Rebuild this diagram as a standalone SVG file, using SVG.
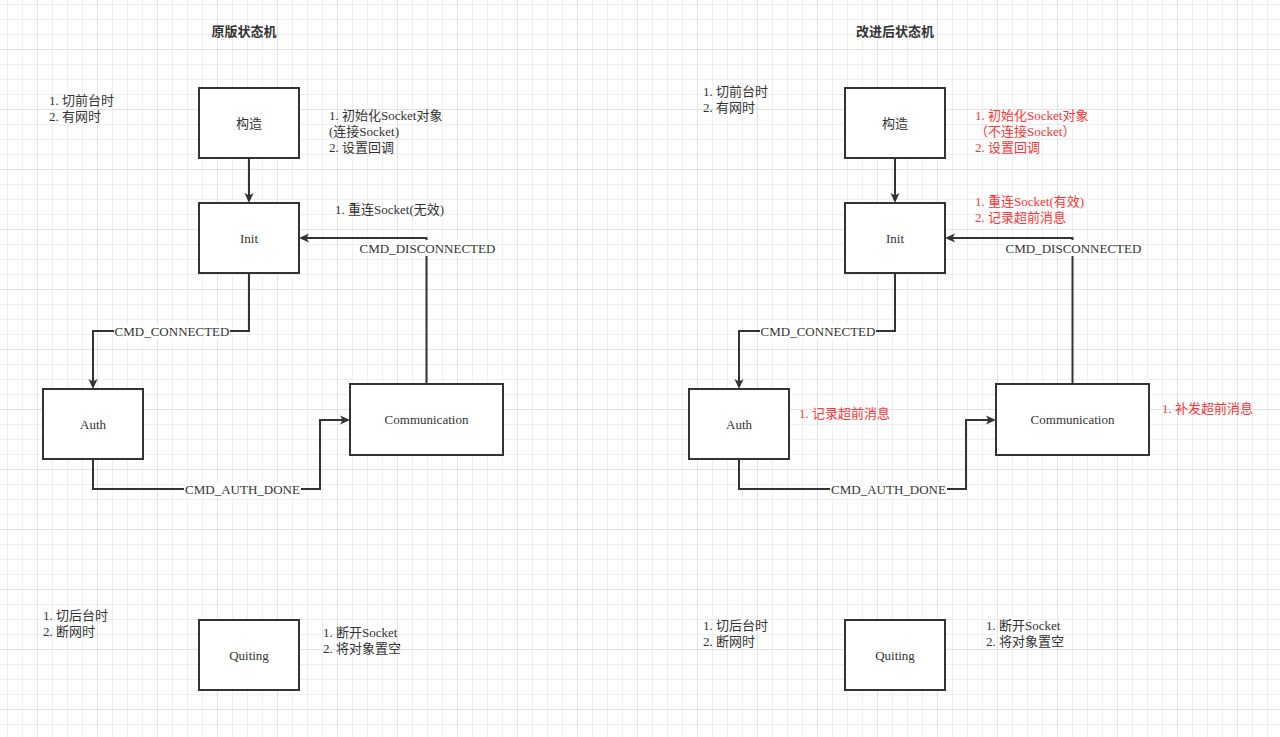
<svg xmlns="http://www.w3.org/2000/svg" width="1280" height="737" viewBox="0 0 1280 737">
<style>
.node rect{fill:#fff;stroke:#333;stroke-width:2}
.node text{font-family:"Liberation Serif","Noto Sans CJK SC",serif;font-size:13px;fill:#333;text-anchor:middle;dominant-baseline:central}
.edge{fill:none;stroke:#333;stroke-width:2;marker-end:url(#arr)}
.lbg{fill:#fff}
.lbl{font-family:"Liberation Serif","Noto Sans CJK SC",serif;font-size:13px;fill:#333;text-anchor:middle;dominant-baseline:central}
.note{font-family:"Liberation Serif","Noto Sans CJK SC",serif;font-size:13px;fill:#333}
.red{font-family:"Liberation Serif","Noto Sans CJK SC",serif;font-size:13px;fill:#ff3333}
.title{font-family:"Noto Sans CJK SC",sans-serif;font-size:13px;font-weight:bold;fill:#333;text-anchor:middle}
</style>
<defs>
<pattern id="grid" x="37" y="49" width="60" height="60" patternUnits="userSpaceOnUse">
<path d="M15.5,0V60M30.5,0V60M45.5,0V60M0,15.5H60M0,30.5H60M0,45.5H60" stroke="#efefef" stroke-width="1" fill="none"/>
<path d="M0.5,0V60M0,0.5H60" stroke="#e2e2e2" stroke-width="1" fill="none"/>
</pattern>
<marker id="arr" viewBox="0 0 10 10" refX="6" refY="5" markerWidth="10" markerHeight="10" markerUnits="userSpaceOnUse" orient="auto">
<path d="M0,0.5 L10,5 L0,9.5 L2.5,5 z" fill="#333"/>
</marker>
</defs>
<rect width="1280" height="737" fill="#fff"/>
<rect width="1280" height="737" fill="url(#grid)"/>

<text class="title" x="244" y="36">原版状态机</text>
<text class="title" x="895" y="36">改进后状态机</text>

<g id="connectors">
<path class="edge" d="M249,158V199"/>
<path class="edge" d="M426.5,384V238H303"/>
<path class="edge" d="M249,273V331H93V385"/>
<path class="edge" d="M93,459V489H320V420H346"/>
<path class="edge" d="M895,158V199"/>
<path class="edge" d="M1072.5,384V238H949"/>
<path class="edge" d="M895,273V331H739V385"/>
<path class="edge" d="M739,459V489H966V420H992"/>
<rect class="lbg" x="359" y="240" width="137" height="16"/>
<text class="lbl" x="427.5" y="248">CMD_DISCONNECTED</text>
<rect class="lbg" x="114" y="324" width="116" height="15"/>
<text class="lbl" x="172" y="331">CMD_CONNECTED</text>
<rect class="lbg" x="184" y="482" width="117" height="15"/>
<text class="lbl" x="242.5" y="489">CMD_AUTH_DONE</text>
<rect class="lbg" x="1005" y="240" width="137" height="16"/>
<text class="lbl" x="1073.5" y="248">CMD_DISCONNECTED</text>
<rect class="lbg" x="760" y="324" width="116" height="15"/>
<text class="lbl" x="818" y="331">CMD_CONNECTED</text>
<rect class="lbg" x="830" y="482" width="117" height="15"/>
<text class="lbl" x="888.5" y="489">CMD_AUTH_DONE</text>
</g>

<g id="l-construct" class="node"><rect x="199" y="88" width="100" height="70"/><text x="249" y="123">构造</text></g>
<g id="l-init" class="node"><rect x="199" y="203" width="100" height="70"/><text x="249" y="238">Init</text></g>
<g id="l-auth" class="node"><rect x="43" y="389" width="100" height="70"/><text x="93" y="424">Auth</text></g>
<g id="l-comm" class="node"><rect x="350" y="384" width="153" height="71"/><text x="426.5" y="419.5">Communication</text></g>
<g id="l-quit" class="node"><rect x="199" y="620" width="100" height="70"/><text x="249" y="655">Quiting</text></g>

<g id="r-construct" class="node"><rect x="845" y="88" width="100" height="70"/><text x="895" y="123">构造</text></g>
<g id="r-init" class="node"><rect x="845" y="203" width="100" height="70"/><text x="895" y="238">Init</text></g>
<g id="r-auth" class="node"><rect x="689" y="389" width="100" height="70"/><text x="739" y="424">Auth</text></g>
<g id="r-comm" class="node"><rect x="996" y="384" width="153" height="71"/><text x="1072.5" y="419.5">Communication</text></g>
<g id="r-quit" class="node"><rect x="845" y="620" width="100" height="70"/><text x="895" y="655">Quiting</text></g>

<g id="notes">
<text class="note" x="49" y="105"><tspan x="49">1. 切前台时</tspan><tspan x="49" dy="16">2. 有网时</tspan></text>
<text class="note" x="329" y="120"><tspan x="329">1. 初始化Socket对象</tspan><tspan x="329" dy="16">(连接Socket)</tspan><tspan x="329" dy="16">2. 设置回调</tspan></text>
<text class="note" x="335" y="214">1. 重连Socket(无效)</text>
<text class="note" x="43" y="620"><tspan x="43">1. 切后台时</tspan><tspan x="43" dy="16">2. 断网时</tspan></text>
<text class="note" x="323" y="637"><tspan x="323">1. 断开Socket</tspan><tspan x="323" dy="16">2. 将对象置空</tspan></text>

<text class="note" x="703" y="96"><tspan x="703">1. 切前台时</tspan><tspan x="703" dy="16">2. 有网时</tspan></text>
<text class="red" x="975" y="120"><tspan x="975">1. 初始化Socket对象</tspan><tspan x="975" dy="16">（不连接Socket）</tspan><tspan x="975" dy="16">2. 设置回调</tspan></text>
<text class="red" x="975" y="206"><tspan x="975">1. 重连Socket(有效)</tspan><tspan x="975" dy="16">2. 记录超前消息</tspan></text>
<text class="red" x="799" y="418">1. 记录超前消息</text>
<text class="red" x="1162" y="413">1. 补发超前消息</text>
<text class="note" x="703" y="630"><tspan x="703">1. 切后台时</tspan><tspan x="703" dy="16">2. 断网时</tspan></text>
<text class="note" x="986" y="630"><tspan x="986">1. 断开Socket</tspan><tspan x="986" dy="16">2. 将对象置空</tspan></text>
</g>
</svg>
